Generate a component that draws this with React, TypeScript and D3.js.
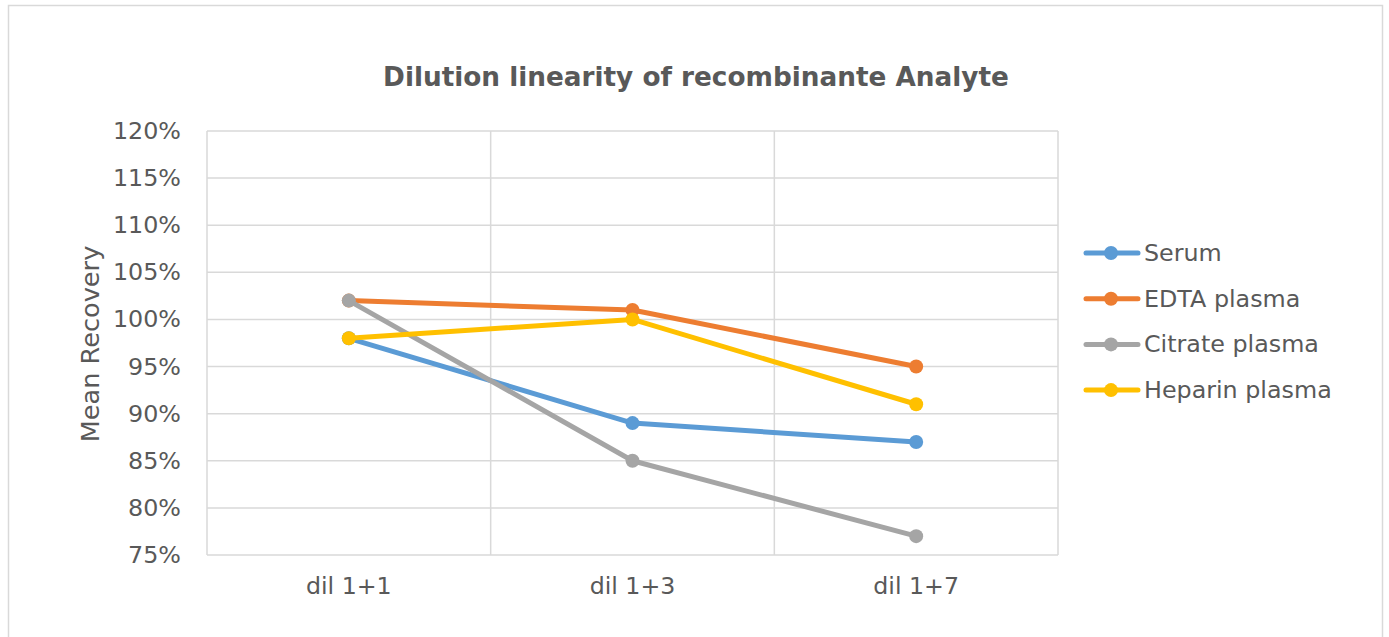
import React from "react";
import * as d3 from "d3";

const categories = ["dil 1+1", "dil 1+3", "dil 1+7"];
const seriesNames = ["Serum", "EDTA plasma", "Citrate plasma", "Heparin plasma"];
const serum = [0.98, 0.89, 0.87];
const edta = [1.02, 1.01, 0.95];
const citrate = [1.02, 0.85, 0.77];
const heparin = [0.98, 1.0, 0.91];
const seriesColors = ["#5B9BD5", "#ED7D31", "#A5A5A5", "#FFC000"];
const yTicks = [0.75, 0.8, 0.85, 0.9, 0.95, 1.0, 1.05, 1.1, 1.15, 1.2];
const title = "Dilution linearity of recombinante Analyte";
const yTitle = "Mean Recovery";

const W = 1389;
const H = 637;
const FONT = "'DejaVu Sans', Verdana, sans-serif";

export default function App() {
  const series = [serum, edta, citrate, heparin];
  const left = 207, right = 1058, top = 131, bottom = 555;
  const x = d3.scaleBand<string>().domain(categories).range([left, right]).paddingInner(0).paddingOuter(0);
  const y = d3.scaleLinear().domain([0.75, 1.2]).range([bottom, top]);
  const line = d3
    .line<number>()
    .x((_, i) => (x(categories[i]) as number) + x.bandwidth() / 2)
    .y((d) => y(d));
  const boundaries = [...categories.map((c) => x(c) as number), right];
  const fmt = d3.format(".0%");

  return (
    <svg
      width={W}
      height={H}
      style={{ position: "absolute", left: 0, top: 0, display: "block" }}
      fontFamily={FONT}
    >
      <rect x={0} y={0} width={W} height={H} fill="#fff" />
      <rect x={8.5} y={5.5} width={1374} height={H + 20} fill="#fff" stroke="#D9D9D9" strokeWidth={1.5} />
      <text x={696} y={77} textAnchor="middle" dominantBaseline="central" fontSize={26.3} fontWeight="bold" fill="#595959">
        {title}
      </text>
      {yTicks.map((t) => (
        <line key={"g" + t} x1={left} x2={right} y1={y(t)} y2={y(t)} stroke="#D9D9D9" strokeWidth={1.5} />
      ))}
      {boundaries.map((b, i) => (
        <line key={"v" + i} x1={b} x2={b} y1={top} y2={bottom} stroke="#D9D9D9" strokeWidth={1.5} />
      ))}
      {yTicks.map((t) => (
        <text key={"t" + t} x={181} y={y(t)} textAnchor="end" dominantBaseline="central" fontSize={23.8} fill="#595959">
          {fmt(t)}
        </text>
      ))}
      {categories.map((c) => (
        <text key={c} x={(x(c) as number) + x.bandwidth() / 2} y={586} textAnchor="middle" dominantBaseline="central" fontSize={23.7} fill="#595959">
          {c}
        </text>
      ))}
      <text
        transform={`translate(90,${344}) rotate(-90)`}
        textAnchor="middle"
        dominantBaseline="central"
        fontSize={25.6}
        fill="#595959"
      >
        {yTitle}
      </text>
      {series.map((s, si) => (
        <g key={seriesNames[si]}>
          <path d={line(s) || ""} fill="none" stroke={seriesColors[si]} strokeWidth={5} strokeLinejoin="round" strokeLinecap="round" />
          {s.map((v, i) => (
            <circle key={i} cx={(x(categories[i]) as number) + x.bandwidth() / 2} cy={y(v)} r={7} fill={seriesColors[si]} />
          ))}
        </g>
      ))}
      {seriesNames.map((n, i) => {
        const ly = 253 + i * 45.7;
        return (
          <g key={"l" + n}>
            <line x1={1086} x2={1138} y1={ly} y2={ly} stroke={seriesColors[i]} strokeWidth={5} strokeLinecap="round" />
            <circle cx={1111} cy={ly} r={7} fill={seriesColors[i]} />
            <text x={1144} y={ly} dominantBaseline="central" fontSize={23.8} fill="#595959">
              {n}
            </text>
          </g>
        );
      })}
    </svg>
  );
}
